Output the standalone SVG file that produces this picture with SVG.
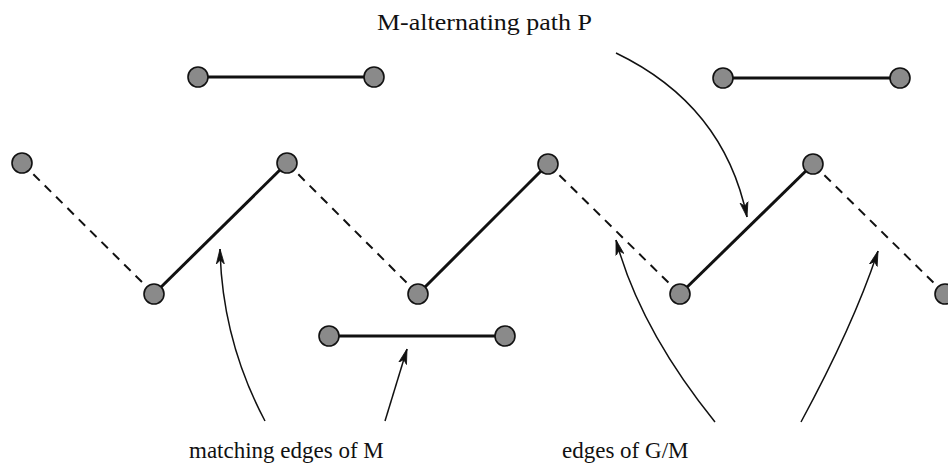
<svg xmlns="http://www.w3.org/2000/svg" width="948" height="474" viewBox="0 0 948 474">
<style>
.node{fill:#8a8a8a;stroke:#111;stroke-width:1.6}
.m{stroke:#111;stroke-width:3;fill:none}
.d{stroke:#111;stroke-width:2;fill:none;stroke-dasharray:9,7}
.a{stroke:#111;stroke-width:1.5;fill:none;marker-end:url(#ah)}
text{font-family:"Liberation Serif","Times New Roman",serif;font-size:23px;fill:#111}
</style>
<defs>
<marker id="ah" viewBox="0 0 16 10" refX="15" refY="5" markerWidth="16" markerHeight="10" markerUnits="userSpaceOnUse" orient="auto">
<path d="M0,1 L15,5 L0,9 L4,5 Z" fill="#111" stroke="#111" stroke-width="0.8"/>
</marker>
</defs>
<g id="connectors">
<line class="d" x1="22" y1="163" x2="154" y2="294"/>
<line class="m" x1="154" y1="294" x2="287" y2="163"/>
<line class="d" x1="287" y1="163" x2="418" y2="294"/>
<line class="m" x1="418" y1="294" x2="548" y2="164"/>
<line class="d" x1="548" y1="164" x2="680" y2="294"/>
<line class="m" x1="680" y1="294" x2="813" y2="164"/>
<line class="d" x1="813" y1="164" x2="945" y2="294"/>
<line class="m" x1="198" y1="77" x2="374" y2="77"/>
<line class="m" x1="723" y1="78" x2="900" y2="78"/>
<line class="m" x1="329" y1="336" x2="505" y2="336"/>
<path class="a" d="M265,421 Q222,340 220,249"/>
<path class="a" d="M385,421 L407,349"/>
<path class="a" d="M616,53 Q724,105 747,217"/>
<path class="a" d="M715,422 Q640,329 616,240"/>
<path class="a" d="M801,422 Q854,324 878,251"/>
</g>
<g id="n1"><circle class="node" cx="22" cy="163" r="10"/></g>
<g id="n2"><circle class="node" cx="154" cy="294" r="10"/></g>
<g id="n3"><circle class="node" cx="287" cy="163" r="10"/></g>
<g id="n4"><circle class="node" cx="418" cy="294" r="10"/></g>
<g id="n5"><circle class="node" cx="548" cy="164" r="10"/></g>
<g id="n6"><circle class="node" cx="680" cy="294" r="10"/></g>
<g id="n7"><circle class="node" cx="813" cy="164" r="10"/></g>
<g id="n8"><circle class="node" cx="945" cy="294" r="10"/></g>
<g id="n9"><circle class="node" cx="198" cy="77" r="10"/></g>
<g id="n10"><circle class="node" cx="374" cy="77" r="10"/></g>
<g id="n11"><circle class="node" cx="723" cy="78" r="10"/></g>
<g id="n12"><circle class="node" cx="900" cy="78" r="10"/></g>
<g id="n13"><circle class="node" cx="329" cy="336" r="10"/></g>
<g id="n14"><circle class="node" cx="505" cy="336" r="10"/></g>
<g id="labels">
<text x="377" y="30" style="font-size:24px" textLength="215" lengthAdjust="spacingAndGlyphs">M-alternating path P</text>
<text x="189" y="458">matching edges of M</text>
<text x="562" y="458">edges of G/M</text>
</g>
</svg>
